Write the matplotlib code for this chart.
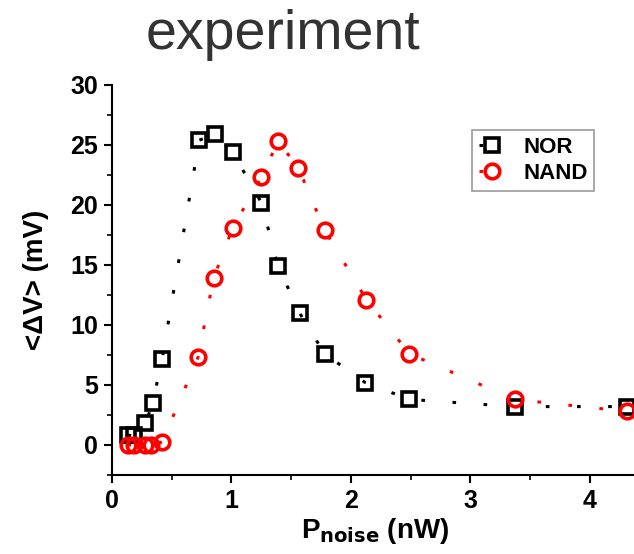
import matplotlib
matplotlib.use('Agg')
from matplotlib import pyplot as plt
from matplotlib.ticker import MultipleLocator

plt.rcParams['font.family'] = ['Liberation Sans', 'DejaVu Sans']

# NOR gate response
nor_p = [0.13, 0.18, 0.28, 0.34, 0.42, 0.73, 0.86, 1.01, 1.25, 1.39, 1.57, 1.78, 2.12, 2.49, 3.37, 4.31]
nor_v = [0.8, 0.8, 1.8, 3.5, 7.2, 25.4, 25.9, 24.4, 20.2, 14.9, 11.0, 7.6, 5.2, 3.8, 3.2, 3.2]

# NAND gate response
nand_p = [0.13, 0.18, 0.28, 0.33, 0.42, 0.72, 0.85, 1.01, 1.25, 1.39, 1.56, 1.78, 2.13, 2.49, 3.37, 4.31]
nand_v = [0.0, 0.0, 0.0, 0.0, 0.25, 7.3, 13.9, 18.1, 22.3, 25.3, 23.1, 17.9, 12.1, 7.6, 3.8, 2.8]

fig = plt.figure(figsize=(6.34, 5.54), dpi=100)
ax = fig.add_axes([0.1767, 0.1426, 0.829, 0.704])

dots = (0, (1.2, 9))
ax.plot(nor_p, nor_v, color='black', lw=2.2, linestyle=dots, marker='s', ms=9.5,
        mfc='none', mec='black', mew=2.6, label='NOR')
ax.plot(nand_p, nand_v, color='red', lw=2.2, linestyle=dots, marker='o', ms=10.5,
        mfc='none', mec='red', mew=2.6, label='NAND')

ax.set_xlim(0, 4.4)
ax.set_ylim(-2.5, 30)
ax.xaxis.set_major_locator(MultipleLocator(1))
ax.xaxis.set_minor_locator(MultipleLocator(0.5))
ax.yaxis.set_major_locator(MultipleLocator(5))
ax.yaxis.set_minor_locator(MultipleLocator(2.5))
for s in ['top', 'right']:
    ax.spines[s].set_visible(False)
for s in ['left', 'bottom']:
    ax.spines[s].set_linewidth(1.5)
ax.tick_params(which='major', direction='out', length=6, width=1.5, labelsize=18, pad=4)
ax.tick_params(which='minor', direction='out', length=3.5, width=1.2)
for lab in ax.get_xticklabels() + ax.get_yticklabels():
    lab.set_fontweight('bold')

ax.set_xlabel(r'P$_{\mathbf{noise}}$ (nW)', fontsize=20, fontweight='bold', labelpad=2)
ax.set_ylabel('<ΔV> (mV)', fontsize=20, fontweight='bold', labelpad=15)

leg = ax.legend(loc='upper left', bbox_to_anchor=(0.685, 0.885), frameon=True, fancybox=False,
                edgecolor='gray', prop={'weight': 'bold', 'size': 16}, handlelength=1.2,
                handletextpad=0.8, borderpad=0.3, labelspacing=0.25, borderaxespad=0)
leg.get_frame().set_linewidth(1.2)

fig.text(0.447, 0.937, 'experiment', fontsize=40, color='#333333', ha='center', va='center')

fig.savefig('out.png', dpi=100)
